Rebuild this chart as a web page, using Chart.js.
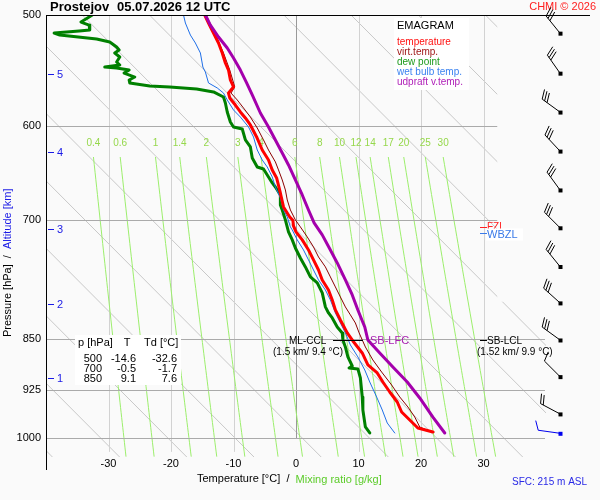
<!DOCTYPE html>
<html><head><meta charset="utf-8">
<script src="https://cdn.jsdelivr.net/npm/chart.js"></script>
<style>html,body{margin:0;padding:0;background:#fafafa;}canvas{display:block;}</style>
</head><body>
<canvas id="c" width="600" height="500" style="width:600px;height:500px"></canvas>
<script>
const FONT = '"Liberation Sans", Arial, Helvetica, sans-serif';

// ---- sounding data (pressure hPa / temperature °C) ----
const tempP = [500, 506.6, 515.0, 523.5, 532.1, 540.9, 547.2, 556.2, 562.6, 568.2, 572.8, 579.5, 586.1, 591.9, 598.7, 610.6, 623.8, 634.1, 644.5, 653.0, 669.3, 684.8, 696.1, 700, 706.4, 713.4, 722.8, 734.8, 746.9, 759.3, 771.8, 784.6, 797.5, 810.7, 824.1, 841.8, 853.0, 869.9, 887.2, 898.9, 912.3, 927.4, 942.7, 958.3, 970.9, 983.7, 990.2];
const tempT = [-14.6, -14.0, -13.2, -12.4, -11.8, -11.3, -10.8, -10.5, -10.0, -10.8, -10.6, -9.7, -8.9, -8.1, -7.3, -6.3, -5.4, -4.4, -3.8, -3.1, -2.5, -2.0, -1.0, -0.5, -0.4, 0.0, 1.0, 2.0, 2.8, 3.6, 4.2, 5.2, 5.8, 6.3, 7.1, 8.2, 9.1, 10.6, 11.5, 13.0, 13.9, 15.0, 16.2, 16.9, 18.2, 19.5, 21.9];

const virtP = [500, 515.0, 532.1, 547.2, 562.6, 568.2, 574.7, 582.3, 591.0, 601.7, 613.6, 623.8, 636.1, 644.5, 655.2, 666.0, 677.0, 688.2, 699.5, 707.6, 719.3, 731.2, 743.3, 755.5, 768.0, 780.7, 793.6, 806.7, 817.3, 828.2, 841.8, 861.4, 880.0, 897.5, 916.8, 935.0, 950.4, 966.2, 982.1, 986.9, 990.2];
const virtT = [-14.4, -13.0, -11.6, -10.6, -9.8, -10.4, -9.4, -8.4, -7.3, -6.2, -5.2, -4.4, -3.3, -2.8, -2.2, -1.7, -1.4, -0.9, -0.1, 0.7, 1.8, 2.8, 3.6, 4.7, 5.5, 6.3, 7.1, 7.9, 8.7, 9.5, 10.1, 11.1, 12.3, 13.7, 15.3, 16.6, 17.9, 19.0, 19.8, 20.9, 22.1];

const dewP = [500, 501.6, 505.8, 508.3, 512.4, 513.3, 515.0, 516.7, 520.1, 522.6, 526.9, 529.5, 532.1, 535.6, 540.0, 542.7, 544.5, 545.4, 547.2, 549.9, 553.5, 556.2, 558.9, 561.7, 562.6, 564.5, 567.2, 571.9, 577.6, 586.1, 595.8, 600.7, 602.7, 613.6, 620.7, 632.0, 641.4, 643.5, 652.0, 658.4, 662.8, 671.5, 682.6, 688.2, 699.5, 713.4, 722.8, 732.4, 744.5, 755.5, 768.0, 775.6, 788.4, 806.7, 814.7, 821.4, 833.6, 841.8, 851.6, 861.4, 875.6, 888.7, 891.6, 893.0, 906.3, 935.0, 955.1, 982.1, 991.8];
const dewT = [-32.6, -33.1, -34.4, -33.1, -33.0, -34.7, -38.7, -37.8, -31.9, -29.8, -28.7, -28.3, -29.0, -28.2, -28.7, -28.2, -30.6, -28.7, -26.7, -27.5, -25.8, -26.7, -26.6, -23.4, -20.2, -15.9, -13.2, -11.6, -11.3, -11.0, -10.5, -10.0, -8.6, -8.1, -7.3, -7.0, -6.2, -5.2, -4.4, -3.8, -3.3, -2.5, -2.5, -2.2, -1.7, -1.2, -0.6, -0.1, 0.7, 1.5, 2.3, 3.4, 4.2, 4.7, 5.2, 5.8, 6.6, 7.4, 7.5, 7.9, 8.3, 9.0, 8.5, 9.9, 10.3, 10.6, 10.7, 11.1, 11.8];

const wbP = [500, 506.6, 516.7, 523.5, 532.1, 544.5, 549.0, 558.9, 563.5, 568.2, 574.7, 584.2, 591.0, 600.7, 610.6, 623.8, 634.1, 641.4, 652.0, 662.8, 674.8, 688.2, 696.1, 707.6, 711.1, 722.8, 734.8, 746.9, 759.3, 771.8, 784.6, 797.5, 814.7, 828.2, 841.8, 858.6, 875.6, 894.5, 912.3, 935.0, 955.1, 975.7, 991.8];
const wbT = [-18.0, -17.7, -16.9, -16.1, -15.3, -14.9, -14.5, -14.0, -12.6, -11.6, -11.0, -10.0, -8.9, -7.6, -6.8, -6.2, -5.4, -4.6, -3.8, -3.3, -2.5, -2.0, -1.4, -0.9, -0.6, 0.2, 1.2, 2.0, 2.8, 3.6, 4.7, 5.5, 6.3, 7.1, 7.9, 8.7, 9.9, 11.0, 11.8, 12.9, 13.8, 14.6, 15.8];

const parcelP = [500, 508.3, 518.4, 527.8, 536.5, 547.2, 558.9, 570.0, 587.1, 600.7, 613.6, 626.8, 639.3, 655.2, 671.5, 688.2, 703.0, 716.9, 734.8, 750.6, 771.8, 791.0, 810.7, 833.6, 851.6, 869.9, 890.1, 912.3, 936.5, 966.2, 991.8];
const parcelT = [-14.5, -13.7, -12.4, -11.0, -10.0, -8.9, -7.9, -7.0, -5.7, -4.4, -3.3, -2.2, -1.2, -0.1, 1.0, 2.0, 2.9, 4.2, 5.5, 6.6, 7.9, 9.0, 9.9, 11.0, 11.5, 13.4, 15.5, 17.8, 19.8, 21.9, 23.8];

// ---- winds ----
const windP = [515.1, 550.0, 586.2, 624.9, 666.0, 708.6, 755.0, 801.4, 851.6, 904.3, 961.3, 992.3];
const windDir = [321, 325, 306, 317, 324, 315, 321, 312, 306, 315, 298, 278];
const windKt = [30, 30, 30, 30, 30, 30, 30, 30, 30, 10, 20, 10];

// ---- axes / reference ----
const pressureTicks = [500, 600, 700, 850, 925, 1000];
const tempTicks = [-30, -20, -10, 0, 10, 20, 30];
const mixRatios = [0.4, 0.6, 1, 1.4, 2, 3, 4, 6, 8, 10, 12, 14, 17, 20, 25, 30];
const guideT1000 = [-42, -31.25, -20.5, -9.75, 1, 11.75, 22.5, 33.25, 44, 54.75, 65.5, 76.25, 87, 97.75, 108.5];
const altKm = [1, 2, 3, 4, 5];
const altP = [906.3, 802.8, 710.0, 625.8, 550.7];

// ---- table ----
const tableP = [500, 700, 850];
const tableT = [-14.6, -0.5, 9.1];
const tableTd = [-32.6, -1.7, 7.6];

// ---- levels ----
const cclP = 852, lfcP = 852, lclP = 852, fzlP = 707.3, wbzlP = 714.3;

function mk(label, P, T, color, w, order) {
  return { label, data: P.map((p, i) => ({ x: T[i], y: p })), borderColor: color, backgroundColor: color,
    borderWidth: w, showLine: true, pointRadius: 0, tension: 0, order, borderJoinStyle: 'round', borderCapStyle: 'round' };
}

function mixTd(w, p) {
  const e = w * p / (622 + w);
  const a = Math.log(e / 6.112);
  return 243.5 * a / (17.67 - a);
}

function txt(ctx, s, x, y, color, size, align, bold) {
  ctx.font = (bold ? 'bold ' : '') + size + 'px ' + FONT;
  ctx.fillStyle = color; ctx.textAlign = align || 'left'; ctx.textBaseline = 'middle';
  ctx.fillText(s, x, y);
}

function barb(ctx, cx, cy, dir, kt, color) {
  const r = dir * Math.PI / 180;
  const ux = Math.sin(r), uy = -Math.cos(r);
  const L = 22;
  const tx = cx + ux * L, ty = cy + uy * L;
  ctx.strokeStyle = color; ctx.fillStyle = color; ctx.lineWidth = 1;
  ctx.beginPath(); ctx.moveTo(cx, cy); ctx.lineTo(tx, ty); ctx.stroke();
  ctx.fillRect(cx - 1.5, cy - 1.5, 4, 4);
  const px = -uy, py = ux;
  const fx = px * 0.92 + ux * 0.38, fy = py * 0.92 + uy * 0.38;
  let n = Math.round(kt / 5);
  const full = Math.floor(n / 2), half = n % 2;
  let pos = 0;
  for (let i = 0; i < full; i++) {
    const sx = tx - ux * pos, sy = ty - uy * pos;
    ctx.beginPath(); ctx.moveTo(sx, sy); ctx.lineTo(sx + fx * 10, sy + fy * 10); ctx.stroke();
    pos += 3;
  }
  if (half) {
    const sx = tx - ux * pos, sy = ty - uy * pos;
    ctx.beginPath(); ctx.moveTo(sx, sy); ctx.lineTo(sx + fx * 5, sy + fy * 5); ctx.stroke();
  }
}

const emagramPlugin = {
  id: 'emagram',
  beforeDraw(chart) {
    const ctx = chart.ctx;
    ctx.save(); ctx.fillStyle = '#fafafa'; ctx.fillRect(0, 0, chart.width, chart.height); ctx.restore();
  },
  beforeDatasetsDraw(chart) {
    const ctx = chart.ctx, xs = chart.scales.x, ys = chart.scales.y, a = chart.chartArea;
    const y800 = ys.getPixelForValue(800);
    const xCut = xs.getPixelForValue(32.2);
    ctx.save();
    ctx.beginPath();
    ctx.rect(a.left, a.top, xCut - a.left, y800 - a.top);
    ctx.rect(a.left, y800, a.right - a.left, a.bottom - y800);
    ctx.clip();
    // guide diagonals
    ctx.strokeStyle = '#c8c8c8'; ctx.lineWidth = 1;
    const K = 97.3;
    guideT1000.forEach(t0 => {
      ctx.beginPath();
      const p1 = 500, p2 = 1031.6;
      ctx.moveTo(xs.getPixelForValue(t0 + K * Math.log(p1 / 1000)), ys.getPixelForValue(p1));
      ctx.lineTo(xs.getPixelForValue(t0 + K * Math.log(p2 / 1000)), ys.getPixelForValue(p2));
      ctx.stroke();
    });
    // isotherms
    tempTicks.forEach(t => {
      const x = Math.round(xs.getPixelForValue(t)) + 0.5;
      ctx.strokeStyle = t === 0 ? '#999999' : '#d2d2d2';
      ctx.beginPath(); ctx.moveTo(x, a.top); ctx.lineTo(x, t === 0 ? ys.getPixelForValue(1000) : ys.getPixelForValue(1023)); ctx.stroke();
    });
    // mixing ratio lines
    ctx.strokeStyle = '#9cee6c';
    mixRatios.forEach(w => {
      ctx.beginPath();
      for (let p = 631; p <= 1032; p += 8) {
        const x = xs.getPixelForValue(mixTd(w, p)), y = ys.getPixelForValue(Math.min(p, 1031.6));
        if (p === 631) ctx.moveTo(x, y); else ctx.lineTo(x, y);
      }
      ctx.stroke();
    });
    ctx.restore();
    ctx.save();
    // isobars
    ctx.strokeStyle = '#aaaaaa'; ctx.lineWidth = 1;
    pressureTicks.slice(1).forEach(p => {
      const y = Math.round(ys.getPixelForValue(p)) + 0.5;
      ctx.beginPath(); ctx.moveTo(a.left, y); ctx.lineTo(p < 800 ? xCut : 545, y); ctx.stroke();
    });
    // mixing ratio labels
    mixRatios.forEach(w => {
      txt(ctx, String(w), xs.getPixelForValue(mixTd(w, 631)), ys.getPixelForValue(616.6), '#96d84c', 10, 'center');
    });
    ctx.restore();
  },
  afterDraw(chart) {
    const ctx = chart.ctx, xs = chart.scales.x, ys = chart.scales.y, a = chart.chartArea;
    ctx.save();
    // frame lines
    ctx.strokeStyle = '#000'; ctx.lineWidth = 1;
    ctx.beginPath(); ctx.moveTo(a.left, a.top + 0.5); ctx.lineTo(590, a.top + 0.5); ctx.stroke();
    ctx.beginPath(); ctx.moveTo(a.left + 0.5, a.top); ctx.lineTo(a.left + 0.5, 470); ctx.stroke();
    // title
    txt(ctx, 'Prostejov', 50, 7, '#000', 13, 'left', true);
    txt(ctx, '05.07.2026 12 UTC', 117, 7, '#000', 13, 'left', true);
    txt(ctx, 'CHMI © 2026', 596, 7, '#ff2020', 11, 'right');
    // legend box
    ctx.fillStyle = '#ffffff'; ctx.fillRect(394, 18, 75, 72);
    txt(ctx, 'EMAGRAM', 397, 26, '#000', 11);
    const leg = [['temperature', '#ff1010'], ['virt.temp.', '#a01818'], ['dew point', '#1c9a1c'], ['wet bulb temp.', '#3a82f0'], ['udpraft v.temp.', '#b020b8']];
    leg.forEach((l, i) => txt(ctx, l[0], 397, 42 + i * 10, l[1], 10));
    // altitude ticks
    ctx.strokeStyle = '#1a1ae6';
    altKm.forEach((k, i) => {
      const y = Math.round(ys.getPixelForValue(altP[i])) + 0.5;
      ctx.beginPath(); ctx.moveTo(48, y); ctx.lineTo(54, y); ctx.stroke();
      txt(ctx, String(k), 57, y, '#1a1ae6', 11);
    });
    // table
    ctx.fillStyle = '#ffffff'; ctx.fillRect(75, 335, 106, 50);
    txt(ctx, 'p [hPa]', 78, 343, '#000', 11);
    txt(ctx, 'T', 127, 343, '#000', 11, 'center');
    txt(ctx, 'Td [°C]', 144, 343, '#000', 11);
    tableP.forEach((p, i) => {
      const y = 359 + i * 10;
      txt(ctx, String(p), 102, y, '#000', 11, 'right');
      txt(ctx, tableT[i].toFixed(1), 136, y, '#000', 11, 'right');
      txt(ctx, tableTd[i].toFixed(1), 177, y, '#000', 11, 'right');
    });
    // CCL / LFC / LCL
    const yc = Math.round(ys.getPixelForValue(cclP)) + 0.5;
    ctx.strokeStyle = '#000';
    ctx.beginPath(); ctx.moveTo(333, yc); ctx.lineTo(363, yc); ctx.stroke();
    txt(ctx, 'ML-CCL', 289, yc + 1, '#000', 10);
    txt(ctx, '(1.5 km/ 9.4 °C)', 273, yc + 12, '#000', 10);
    txt(ctx, 'SB-LFC', 370, ys.getPixelForValue(lfcP) + 1, '#a820b0', 11);
    const yl = Math.round(ys.getPixelForValue(lclP)) + 0.5;
    ctx.beginPath(); ctx.moveTo(480, yl); ctx.lineTo(487, yl); ctx.stroke();
    txt(ctx, 'SB-LCL', 487, yl + 1, '#000', 10);
    txt(ctx, '(1.52 km/ 9.9 °C)', 477, yl + 12, '#000', 10);
    // FZL / WBZL
    const yf = Math.round(ys.getPixelForValue(fzlP)) + 0.5;
    ctx.strokeStyle = '#ff2020';
    ctx.beginPath(); ctx.moveTo(480, yf); ctx.lineTo(487, yf); ctx.stroke();
    txt(ctx, 'FZL', 487, yf, '#ff2020', 10);
    const yw = Math.round(ys.getPixelForValue(wbzlP)) + 0.5;
    ctx.fillStyle = '#ffffff'; ctx.fillRect(486, yw - 5, 37, 12);
    ctx.strokeStyle = '#3a7ae8';
    ctx.beginPath(); ctx.moveTo(480, yw); ctx.lineTo(487, yw); ctx.stroke();
    txt(ctx, 'WBZL', 487, yw + 1, '#3a7ae8', 11);
    // axis titles
    ctx.font = '11px ' + FONT;
    let x0 = 197;
    txt(ctx, 'Temperature [°C]', x0, 479, '#000', 11); x0 += ctx.measureText('Temperature [°C]').width;
    txt(ctx, '  /  ', x0, 479, '#000', 11); x0 += ctx.measureText('  /  ').width;
    txt(ctx, 'Mixing ratio [g/kg]', x0, 480, '#5ccc2a', 11);
    ctx.save();
    ctx.translate(8, 337); ctx.rotate(-Math.PI / 2);
    ctx.font = '11px ' + FONT;
    let s0 = 0;
    txt(ctx, 'Pressure [hPa]', s0, 0, '#000', 11); s0 += ctx.measureText('Pressure [hPa]').width;
    txt(ctx, '  /  ', s0, 0, '#000', 11); s0 += ctx.measureText('  /  ').width;
    txt(ctx, 'Altitude [km]', s0, 0, '#1a1ae6', 11);
    ctx.restore();
    txt(ctx, 'SFC: 215 m ASL', 512, 482, '#2a2ae6', 10);
    // wind barbs
    windP.forEach((p, i) => {
      barb(ctx, 560, ys.getPixelForValue(p), windDir[i], windKt[i], i === windP.length - 1 ? '#0000ee' : '#000');
    });
    ctx.restore();
  }
};

new Chart(document.getElementById('c'), {
  type: 'scatter',
  data: { datasets: [
    mk('udpraft v.temp.', parcelP, parcelT, '#a400ac', 3, 0),
    mk('temperature', tempP, tempT, '#ff0000', 3, 1),
    mk('virt.temp.', virtP, virtT, '#8b0000', 1, 2),
    mk('wet bulb temp.', wbP, wbT, '#1f6fe8', 1, 3),
    mk('dew point', dewP, dewT, '#008000', 3, 4)
  ]},
  options: {
    responsive: false, animation: false,
    layout: { padding: { top: 15, right: 54, left: 0, bottom: 0 } },
    plugins: { legend: { display: false }, tooltip: { enabled: false } },
    scales: {
      x: { type: 'linear', min: -40, max: 40,
        grid: { display: false, drawTicks: false }, border: { display: false },
        afterBuildTicks: s => { s.ticks = tempTicks.map(v => ({ value: v })); },
        afterFit: s => { s.height = 43; },
        ticks: { font: { family: FONT, size: 11 }, color: '#000', padding: 0, maxRotation: 0, autoSkip: false } },
      y: { type: 'logarithmic', reverse: true, min: 500, max: 1031.6,
        grid: { display: false, drawTicks: false }, border: { display: false },
        afterBuildTicks: s => { s.ticks = pressureTicks.map(v => ({ value: v })); },
        afterFit: s => { s.width = 46; },
        ticks: { font: { family: FONT, size: 11 }, color: '#000', padding: 5, autoSkip: false, callback: v => String(v) } }
    }
  },
  plugins: [emagramPlugin]
});
</script>
</body></html>
